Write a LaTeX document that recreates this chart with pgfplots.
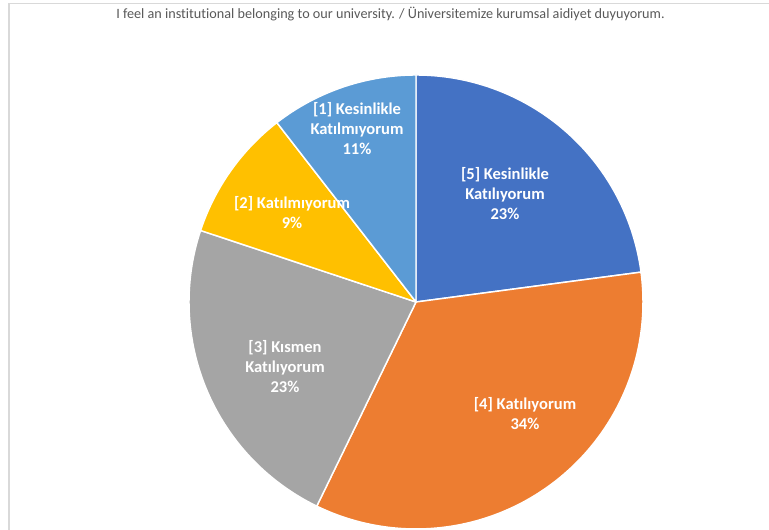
\documentclass[border=0pt]{standalone}
\usepackage{fontspec}
\setmainfont{Carlito}[Ligatures=NoCommon]
\usepackage{pgfplots}
\pgfplotsset{compat=1.18}
\definecolor{s5}{HTML}{4472C4}
\definecolor{s4}{HTML}{ED7D31}
\definecolor{s3}{HTML}{A5A5A5}
\definecolor{s2}{HTML}{FFC000}
\definecolor{s1}{HTML}{5B9BD5}
\definecolor{titlegray}{HTML}{595959}
\definecolor{framegray}{HTML}{D9D9D9}
\begin{document}
\begin{tikzpicture}[lbl/.style={align=center, text=white, font=\bfseries\fontsize{12.4}{15}\selectfont}]
% shares in percent, clockwise from 12 o'clock: [5], [4], [3], [2], [1]
\pgfmathsetmacro\aA{90}
\pgfmathsetmacro\aB{\aA-3.6*22.9}
\pgfmathsetmacro\aC{\aB-3.6*34.3}
\pgfmathsetmacro\aD{\aC-3.6*22.9}
\pgfmathsetmacro\aE{\aD-3.6*9.4}
\pgfmathsetmacro\aF{\aE-3.6*10.5}
\begin{axis}[
    at={(0,0)}, anchor=south west,
    width=576.75pt, height=397.5pt, scale only axis,
    xmin=0, xmax=769, ymin=0, ymax=530,
    hide axis, clip=false,
    every axis plot/.append style={draw=white, line width=1.1pt, samples=120, line join=round},
]
\draw[framegray, line width=0.8pt] (axis cs:9,0) -- (axis cs:9,526.5) -- (axis cs:769,526.5);

\addplot[fill=s5, domain=\aB:\aA] ({416+227*cos(x)}, {228+227*sin(x)}) -- (axis cs:416,228) -- cycle;
\addplot[fill=s4, domain=\aC:\aB] ({416+227*cos(x)}, {228+227*sin(x)}) -- (axis cs:416,228) -- cycle;
\addplot[fill=s3, domain=\aD:\aC] ({416+227*cos(x)}, {228+227*sin(x)}) -- (axis cs:416,228) -- cycle;
\addplot[fill=s2, domain=\aE:\aD] ({416+227*cos(x)}, {228+227*sin(x)}) -- (axis cs:416,228) -- cycle;
\addplot[fill=s1, domain=\aF:\aE] ({416+227*cos(x)}, {228+227*sin(x)}) -- (axis cs:416,228) -- cycle;

\node[lbl] at (axis cs:505,336) {[5] Kesinlikle\\Katılıyorum\\23\%};
\node[lbl] at (axis cs:525,116) {[4] Katılıyorum\\34\%};
\node[lbl] at (axis cs:285,163) {[3] Kısmen\\Katılıyorum\\23\%};
\node[lbl] at (axis cs:292,317) {[2] Katılmıyorum\\9\%};
\node[lbl] at (axis cs:357,401) {[1] Kesinlikle\\Katılmıyorum\\11\%};

\node[text=titlegray, font=\fontsize{10.65}{12}\selectfont] at (axis cs:390.5,515.5)
    {I feel an institutional belonging to our university. / Üniversitemize kurumsal aidiyet duyuyorum.};
\end{axis}
\pgfresetboundingbox
\useasboundingbox (0,0) rectangle (576.75pt,397.5pt);
\end{tikzpicture}
\end{document}
